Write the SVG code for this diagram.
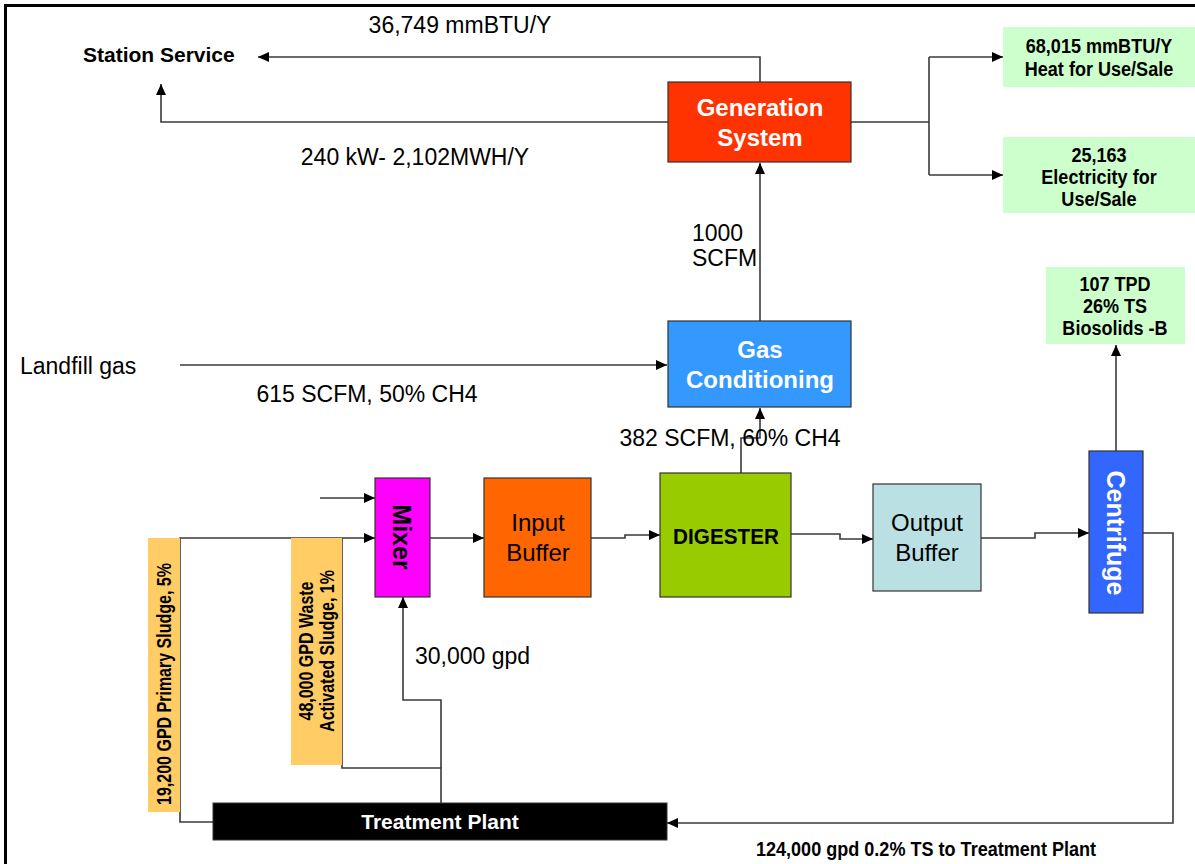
<svg xmlns="http://www.w3.org/2000/svg" width="1195" height="864" viewBox="0 0 1195 864">
<defs>
<marker id="arr" markerUnits="userSpaceOnUse" markerWidth="12" markerHeight="10" refX="11" refY="5" orient="auto">
<path d="M0,0 L11,5 L0,10 z" fill="#000"/>
</marker>
<style>
.ln{fill:none;stroke:#3a3a3a;stroke-width:1.6}
.box{stroke:#333;stroke-width:1.2}
.lbl{font-family:"Liberation Sans",Arial,sans-serif;font-size:23px;fill:#000}
.ss{font-family:"Liberation Sans",Arial,sans-serif;font-size:21px;font-weight:bold;fill:#000}
.wb{font-family:"Liberation Sans",Arial,sans-serif;font-size:24px;font-weight:bold;fill:#fff;text-anchor:middle}
.bk{font-family:"Liberation Sans",Arial,sans-serif;font-size:24px;fill:#000;text-anchor:middle}
.nb{font-family:"Liberation Sans",Arial,sans-serif;font-size:21px;font-weight:bold;fill:#000;text-anchor:middle}
.ns{font-family:"Liberation Sans",Arial,sans-serif;font-size:20px;font-weight:bold;fill:#000;text-anchor:middle}
.grn{fill:#CCFFCC}
.org{fill:#FFCC66}
</style>
</defs>
<rect x="0" y="0" width="1195" height="864" fill="#fff"/>
<path d="M5.5,870 V5.5 H1200" fill="none" stroke="#000" stroke-width="3"/>

<g id="connectors">
<path class="ln" d="M760,82 V57 H258" marker-end="url(#arr)"/>
<path class="ln" d="M668,122 H161 V84" marker-end="url(#arr)"/>
<path class="ln" d="M851,122 H929 M929,57 V175"/>
<path class="ln" d="M929,57 H1003" marker-end="url(#arr)"/>
<path class="ln" d="M929,175 H1003" marker-end="url(#arr)"/>
<path class="ln" d="M760,321 V163" marker-end="url(#arr)"/>
<path class="ln" d="M180,365 H667" marker-end="url(#arr)"/>
<path class="ln" d="M741,473 V438 H760 V408" marker-end="url(#arr)"/>
<path class="ln" d="M1116,451 V345" marker-end="url(#arr)"/>
<path class="ln" d="M430,538 H484" marker-end="url(#arr)"/>
<path class="ln" d="M591,538 H625 V535 H660" marker-end="url(#arr)"/>
<path class="ln" d="M791,534 H840 V539 H873" marker-end="url(#arr)"/>
<path class="ln" d="M981,538 H1035 V533 H1089" marker-end="url(#arr)"/>
<path class="ln" d="M1143,533 H1173 V823 H667" marker-end="url(#arr)"/>
<path class="ln" d="M213,822 H180 V538 H375" marker-end="url(#arr)"/>
<path class="ln" d="M320,498 H375" marker-end="url(#arr)"/>
<path class="ln" d="M441,803 V768 H342 V538"/>
<path class="ln" d="M441,768 V700 H403 V597" marker-end="url(#arr)"/>
</g>

<g id="station-service"><text class="ss" x="83" y="62">Station Service</text></g>
<g id="lbl-mmbtu"><text class="lbl" x="460" y="33" text-anchor="middle">36,749 mmBTU/Y</text></g>
<g id="lbl-kw"><text class="lbl" x="415" y="165" text-anchor="middle">240 kW- 2,102MWH/Y</text></g>

<g id="generation-system">
<rect class="box" x="668" y="82" width="183" height="80" fill="#FF3300"/>
<text class="wb" x="760" y="116">Generation</text>
<text class="wb" x="760" y="146">System</text>
</g>

<g id="heat-out">
<rect x="1003" y="27" width="192" height="60" class="grn"/>
<text class="nb" transform="translate(1099,53) scale(0.86,1)">68,015 mmBTU/Y</text>
<text class="nb" transform="translate(1099,76) scale(0.86,1)">Heat for Use/Sale</text>
</g>

<g id="elec-out">
<rect x="1003" y="137" width="192" height="76" class="grn"/>
<text class="nb" transform="translate(1099,162) scale(0.86,1)">25,163</text>
<text class="nb" transform="translate(1099,184) scale(0.86,1)">Electricity for</text>
<text class="nb" transform="translate(1099,206) scale(0.86,1)">Use/Sale</text>
</g>

<g id="lbl-1000"><text class="lbl" x="692" y="241">1000</text><text class="lbl" x="692" y="266">SCFM</text></g>

<g id="gas-conditioning">
<rect class="box" x="668" y="321" width="183" height="86" fill="#3399FF"/>
<text class="wb" x="760" y="358">Gas</text>
<text class="wb" x="760" y="388">Conditioning</text>
</g>

<g id="landfill-gas"><text class="lbl" x="20" y="374">Landfill gas</text></g>
<g id="lbl-615"><text class="lbl" x="367" y="402" text-anchor="middle">615 SCFM, 50% CH4</text></g>
<g id="lbl-382"><text class="lbl" x="730" y="446" text-anchor="middle">382 SCFM, 60% CH4</text></g>

<g id="biosolids">
<rect x="1046" y="267" width="139" height="77" class="grn"/>
<text class="nb" transform="translate(1115,291) scale(0.86,1)">107 TPD</text>
<text class="nb" transform="translate(1115,313) scale(0.86,1)">26% TS</text>
<text class="nb" transform="translate(1115,335) scale(0.86,1)">Biosolids -B</text>
</g>

<g id="mixer">
<rect class="box" x="375" y="478" width="55" height="119" fill="#FF00FF"/>
<text x="402" y="537" transform="rotate(90 402 537)" dy="9" font-family="Liberation Sans,Arial,sans-serif" font-size="25" font-weight="bold" text-anchor="middle" fill="#000">Mixer</text>
</g>

<g id="input-buffer">
<rect class="box" x="484" y="478" width="107" height="119" fill="#FF6600"/>
<text class="bk" x="538" y="531">Input</text>
<text class="bk" x="538" y="561">Buffer</text>
</g>

<g id="digester">
<rect class="box" x="660" y="473" width="131" height="124" fill="#99CC00"/>
<text transform="translate(726,544) scale(0.92,1)" font-family="Liberation Sans,Arial,sans-serif" font-size="22.5" font-weight="bold" text-anchor="middle" fill="#000">DIGESTER</text>
</g>

<g id="output-buffer">
<rect class="box" x="873" y="484" width="108" height="107" fill="#BBE0E3"/>
<text class="bk" x="927" y="531">Output</text>
<text class="bk" x="927" y="561">Buffer</text>
</g>

<g id="centrifuge">
<rect class="box" x="1089" y="451" width="54" height="162" fill="#3366FF"/>
<text x="1116" y="533" transform="rotate(90 1116 533)" dy="9" font-family="Liberation Sans,Arial,sans-serif" font-size="25" font-weight="bold" text-anchor="middle" fill="#fff">Centrifuge</text>
</g>

<g id="primary-sludge">
<rect x="148" y="538" width="32" height="274" class="org"/>
<text class="ns" transform="translate(164,684) rotate(-90) scale(0.8,1)" y="7">19,200 GPD Primary Sludge, 5%</text>
</g>

<g id="was">
<rect x="291" y="538" width="51" height="227" class="org"/>
<text class="ns" transform="translate(316,651) rotate(-90) scale(0.8,1)" y="-3">48,000  GPD Waste</text>
<text class="ns" transform="translate(316,651) rotate(-90) scale(0.8,1)" y="18">Activated Sludge, 1%</text>
</g>

<g id="lbl-30000"><text class="lbl" x="415" y="664">30,000 gpd</text></g>

<g id="treatment-plant">
<rect x="213" y="803" width="454" height="37" fill="#000" stroke="#333" stroke-width="1"/>
<text x="440" y="829" font-family="Liberation Sans,Arial,sans-serif" font-size="21" font-weight="bold" text-anchor="middle" fill="#fff">Treatment Plant</text>
</g>

<g id="lbl-124000"><text class="nb" transform="translate(926,856) scale(0.86,1)">124,000 gpd 0.2% TS to Treatment Plant</text></g>
</svg>
